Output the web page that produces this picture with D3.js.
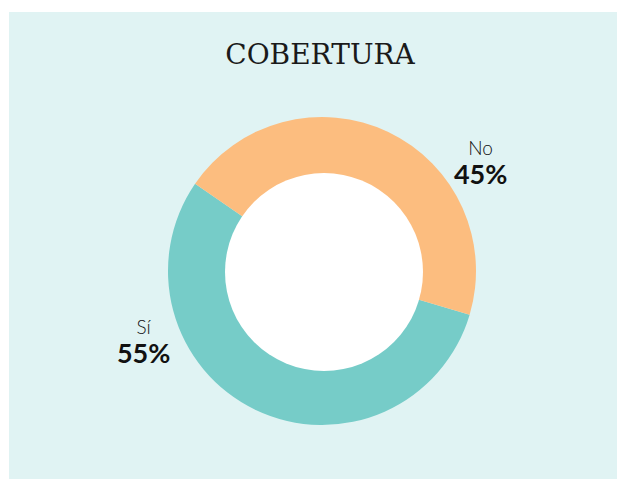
<!DOCTYPE html>
<html>
<head>
<meta charset="utf-8">
<script src="https://cdn.jsdelivr.net/npm/d3@7"></script>
<style>
  body{margin:0;background:#fff;}
  svg{display:block;}
</style>
</head>
<body>
<svg id="chart"></svg>
<script>
// datos
const categorias = ['Sí','No'];
const valores = [55, 45];
const colores = ['#76ccc8','#fcbd7f'];
const titulo = 'COBERTURA';

let width = 622, height = 479;
const cx = 322, cy = 271, rOut = 154, rIn = 99;
// angulos (grados, desde arriba en sentido horario) donde van las etiquetas
const angEtiqueta = [248.3, 55.7], rEtiqueta = 192;

const svg = d3.select('#chart')
  .attr('width', width)
  .attr('height', height);

svg.append('rect') //fondo del panel
  .attr('x', 9).attr('y', 12)
  .attr('width', 608).attr('height', height - 12)
  .attr('fill', '#e0f3f3');

svg.append('text')
  .attr('x', 320).attr('y', 64)
  .attr('text-anchor', 'middle')
  .attr('font-family', '"DejaVu Serif", serif')
  .attr('font-size', 28)
  .attr('fill', '#1a1a1a')
  .text(titulo);

const datos = categorias.map((c, i) => ({cat: c, val: valores[i], color: colores[i]}));

const pie = d3.pie()
  .sort(null)
  .value(d => d.val)
  .startAngle(106.5 * Math.PI / 180)
  .endAngle((106.5 + 360) * Math.PI / 180);

const arc = d3.arc().innerRadius(0).outerRadius(rOut);

const g = svg.append('g').attr('transform', `translate(${cx},${cy})`);
g.selectAll('.slice')
  .data(pie(datos))
  .join('path')
    .classed('slice', true)
    .attr('d', arc)
    .attr('fill', d => d.data.color);

g.append('circle') // hueco blanco
  .attr('cx', 2).attr('cy', 1)
  .attr('r', rIn)
  .attr('fill', '#fff');

const etiquetas = svg.selectAll('.etiqueta')
  .data(datos)
  .join('g')
    .classed('etiqueta', true)
    .attr('transform', (d, i) => {
      const a = angEtiqueta[i] * Math.PI / 180;
      return `translate(${cx + rEtiqueta * Math.sin(a)},${cy - rEtiqueta * Math.cos(a)})`;
    });

etiquetas.append('text')
  .attr('y', -8)
  .attr('text-anchor', 'middle')
  .attr('font-family', 'Lato, sans-serif')
  .attr('font-weight', 300)
  .attr('font-size', 19)
  .attr('fill', '#111')
  .text(d => d.cat);

etiquetas.append('text')
  .attr('y', 21)
  .attr('text-anchor', 'middle')
  .attr('font-family', 'Lato, sans-serif')
  .attr('font-weight', 700)
  .attr('font-size', 27)
  .attr('fill', '#111')
  .text(d => d.val + '%');
</script>
</body>
</html>
